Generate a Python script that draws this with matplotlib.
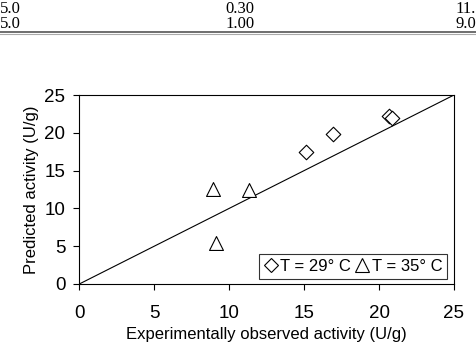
import matplotlib.pyplot as plt
from matplotlib.lines import Line2D

plt.rcParams['font.family'] = ['Liberation Sans', 'DejaVu Sans']

# data
obs_29 = [15.1, 16.95, 20.66, 20.84]
pred_29 = [17.5, 19.8, 22.25, 21.9]
obs_35 = [8.9, 11.3, 9.14]
pred_35 = [12.55, 12.4, 5.4]
ticks = [0, 5, 10, 15, 20, 25]

# table fragment above the chart (columns)
table_cols = [["5.0", "5.0"], ["0.30", "1.00"], ["11.1", "9.0"]]

fig = plt.figure(figsize=(4.76, 3.45), dpi=100)
ax = fig.add_axes([79.3 / 476, 1 - 284 / 345, 374.7 / 476, 189 / 345])

ax.plot([0, 25], [0, 25], color='black', lw=0.8)
ax.scatter(obs_29, pred_29, marker='D', s=55, facecolors='white', edgecolors='black',
           linewidths=0.8, zorder=3)
ax.scatter(obs_35, pred_35, marker='^', s=100, facecolors='white', edgecolors='black',
           linewidths=0.8, zorder=3)

ax.set_xlim(0, 25)
ax.set_ylim(0, 25)
ax.set_xticks(ticks)
ax.set_yticks(ticks)
ax.tick_params(direction='out', length=4, width=0.8, labelsize=13.5)
ax.tick_params(axis='x', pad=11)
ax.tick_params(axis='y', pad=6)
for s in ax.spines.values():
    s.set_linewidth(0.8)
ax.set_xlabel('Experimentally observed activity (U/g)', fontsize=12, labelpad=4)
ax.set_ylabel('Predicted activity (U/g)', fontsize=12, labelpad=4)

handles = [
    Line2D([], [], ls='none', marker='D', ms=7, mfc='white', mec='black', mew=0.8),
    Line2D([], [], ls='none', marker='^', ms=10, mfc='white', mec='black', mew=0.8),
]
leg = ax.legend(handles, ['T = 29° C', 'T = 35° C'], loc='lower right', ncol=2,
                fontsize=12, frameon=True, fancybox=False, edgecolor='black',
                handlelength=0.8, handletextpad=0.15, columnspacing=0.3,
                borderpad=0.3, borderaxespad=0.0, bbox_to_anchor=(0.982, 0.025))
leg.get_frame().set_linewidth(0.8)

# table fragment at top, one text per column
xs = [0 / 476, 225 / 476, 455 / 476]
for col, x in zip(table_cols, xs):
    fig.text(x, 1 - 1 / 345, "\n".join(col), family='Liberation Serif', fontsize=12,
             va='top', ha='left', linespacing=0.95)
fig.add_artist(Line2D([0, 1], [1 - 32 / 345, 1 - 32 / 345], color='#555555', lw=1.2))
fig.add_artist(Line2D([0, 1], [1 - 34 / 345, 1 - 34 / 345], color='#aaaaaa', lw=0.8))

fig.savefig('out.png', dpi=100)
